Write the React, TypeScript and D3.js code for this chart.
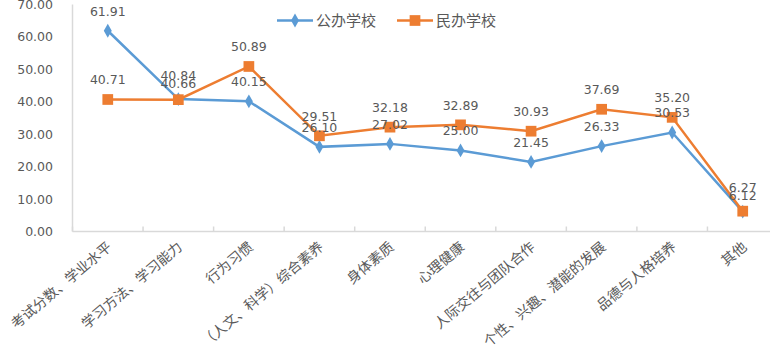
import React, { useEffect, useRef } from "react";
import * as d3 from "d3";

// chart data
const categories = [
  "考试分数、学业水平",
  "学习方法、学习能力",
  "行为习惯",
  "（人文、科学）综合素养",
  "身体素质",
  "心理健康",
  "人际交往与团队合作",
  "个性、兴趣、潜能的发展",
  "品德与人格培养",
  "其他",
];
const publicSchool = [61.91, 40.84, 40.15, 26.1, 27.02, 25.0, 21.45, 26.33, 30.53, 6.12];
const privateSchool = [40.71, 40.66, 50.89, 29.51, 32.18, 32.89, 30.93, 37.69, 35.2, 6.27];
const yTicks = [0, 10, 20, 30, 40, 50, 60, 70];
const seriesNames = ["公办学校", "民办学校"];

const App = () => {
  const svgRef = useRef<SVGSVGElement>(null);

  useEffect(() => {
    const width = 770,
      height = 363;
    const left = 72.5,
      right = 778,
      top = 4.5,
      bottom = 231.5;

    const svg = d3.select(svgRef.current).attr("width", width).attr("height", height);
    svg.selectAll("*").remove();

    const numFont = "'DejaVu Sans', Verdana, sans-serif";
    const cjkFont = "'Noto Sans CJK SC', sans-serif";
    const textColor = "#595959";
    const blue = "#5B9BD5";
    const orange = "#ED7D31";

    const x = d3.scaleBand().domain(categories).range([left, right]);
    const y = d3.scaleLinear().domain([0, 70]).range([bottom, top]);
    const cx = (c) => x(c) + x.bandwidth() / 2;

    // y axis labels
    svg.selectAll(".ylab")
      .data(yTicks)
      .join("text")
      .attr("class", "ylab")
      .attr("x", 53)
      .attr("y", d => y(d))
      .attr("dy", "0.36em")
      .attr("text-anchor", "end")
      .attr("font-family", numFont)
      .attr("font-size", 12.5)
      .attr("fill", textColor)
      .text(d => d.toFixed(2));

    // axis lines
    svg.append("line")
      .attr("x1", left).attr("x2", left)
      .attr("y1", top).attr("y2", bottom)
      .attr("stroke", "#D9D9D9").attr("stroke-width", 1.5);
    svg.append("line")
      .attr("x1", left).attr("x2", right)
      .attr("y1", bottom).attr("y2", bottom)
      .attr("stroke", "#D9D9D9").attr("stroke-width", 1.5);

    // x ticks (band edges)
    svg.selectAll(".xtick")
      .data(categories)
      .join("line")
      .attr("class", "xtick")
      .attr("x1", d => x(d)).attr("x2", d => x(d))
      .attr("y1", bottom - 5).attr("y2", bottom)
      .attr("stroke", "#D9D9D9").attr("stroke-width", 1.5);

    // x labels, rotated
    svg.selectAll(".xlab")
      .data(categories)
      .join("text")
      .attr("class", "xlab")
      .attr("transform", d => `translate(${cx(d) + 5},${bottom + 17}) rotate(-40)`)
      .attr("text-anchor", "end")
      .attr("font-family", cjkFont)
      .attr("font-size", 14)
      .attr("fill", textColor)
      .text(d => d);

    const line = d3.line<number>()
      .x((d, i) => cx(categories[i]))
      .y(d => y(d));

    const series = [
      { name: seriesNames[0], values: publicSchool, color: blue, symbol: d3.symbolDiamond, size: 55 },
      { name: seriesNames[1], values: privateSchool, color: orange, symbol: d3.symbolSquare, size: 115 },
    ];

    series.forEach(s => {
      svg.append("path")
        .datum(s.values)
        .attr("d", line)
        .attr("fill", "none")
        .attr("stroke", s.color)
        .attr("stroke-width", 2.5);
      svg.selectAll(null)
        .data(s.values)
        .join("path")
        .attr("transform", (d, i) => `translate(${cx(categories[i])},${y(d)})`)
        .attr("d", d3.symbol().type(s.symbol).size(s.size))
        .attr("fill", s.color);
    });

    // data labels, pushed apart a little when the two series nearly coincide
    const labelY = series.map(s => s.values.map(v => y(v) - 19.5));
    categories.forEach((c, i) => {
      const a = labelY[0][i], b = labelY[1][i];
      if (Math.abs(a - b) < 8) {
        const mid = (a + b) / 2;
        const aHigher = publicSchool[i] >= privateSchool[i];
        labelY[0][i] = mid + (aHigher ? -4 : 4);
        labelY[1][i] = mid + (aHigher ? 4 : -4);
      }
    });

    series.forEach((s, si) => {
      svg.selectAll(null)
        .data(s.values)
        .join("text")
        .attr("x", (d, i) => cx(categories[i]))
        .attr("y", (d, i) => labelY[si][i])
        .attr("dy", "0.36em")
        .attr("text-anchor", "middle")
        .attr("font-family", numFont)
        .attr("font-size", 12.5)
        .attr("fill", textColor)
        .text(d => d.toFixed(2));
    });

    // legend
    const legend = [
      { x: 277, color: blue, symbol: d3.symbolDiamond, size: 55 },
      { x: 397, color: orange, symbol: d3.symbolSquare, size: 115 },
    ];
    legend.forEach((l, i) => {
      svg.append("line")
        .attr("x1", l.x).attr("x2", l.x + 36)
        .attr("y1", 20.5).attr("y2", 20.5)
        .attr("stroke", l.color).attr("stroke-width", 2.5);
      svg.append("path")
        .attr("transform", `translate(${l.x + 18},20.5)`)
        .attr("d", d3.symbol().type(l.symbol).size(l.size))
        .attr("fill", l.color);
      svg.append("text")
        .attr("x", l.x + 39)
        .attr("y", 20.5)
        .attr("dy", "0.36em")
        .attr("font-family", cjkFont)
        .attr("font-size", 15)
        .attr("fill", textColor)
        .text(seriesNames[i]);
    });
  }, []);

  return <svg ref={svgRef} style={{ position: "absolute", left: 0, top: 0 }}></svg>;
};

export default App;
